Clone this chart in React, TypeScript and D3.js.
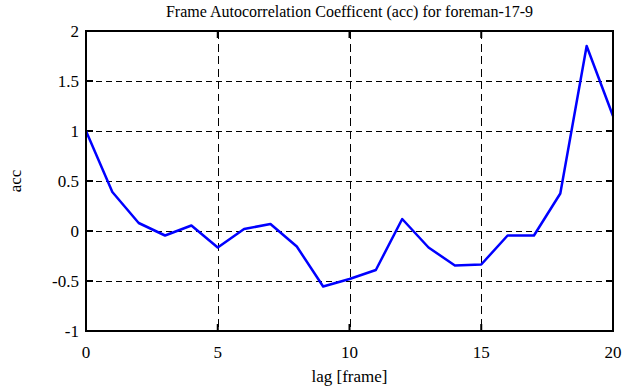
import React from "react";
import {scaleLinear, line} from "d3";

// lag vs autocorrelation
const lags = [0, 1, 2, 3, 4, 5, 6, 7, 8, 9, 10, 11, 12, 13, 14, 15, 16, 17, 18, 19, 20];
const accValues = [1.0, 0.39, 0.08, -0.045, 0.055, -0.165, 0.02, 0.07, -0.155, -0.555, -0.48, -0.39, 0.12, -0.165, -0.345, -0.335, -0.045, -0.045, 0.375, 1.85, 1.15];
const xTicks = [0, 5, 10, 15, 20];
const yTicks = [-1, -0.5, 0, 0.5, 1, 1.5, 2];

const W = 635;
const H = 387;
const margin = {left: 86, right: 22, top: 31, bottom: 56};

function App() {
    const x = scaleLinear().domain([0, 20]).range([margin.left, W - margin.right]);
    const y = scaleLinear().domain([-1, 2]).range([H - margin.bottom, margin.top]);
    const path = line<number>()
        .x((d, i) => x(lags[i]))
        .y(d => y(d))(accValues);

    const font = "'Liberation Serif', 'DejaVu Serif', serif";
    const [x0, x1] = x.range();
    const [y0, y1] = y.range();

    return (
        <svg width={W} height={H} style={{position: "absolute", left: 0, top: 0, background: "#fff"}}
             fontFamily={font}>
            <rect x={0} y={0} width={W} height={H} fill="#fff"/>
            {/* grid */}
            <g shapeRendering="crispEdges">
                {xTicks.slice(1, -1).map(t => (
                    <line key={"gx" + t} x1={Math.round(x(t)) + 0.5} x2={Math.round(x(t)) + 0.5} y1={y1} y2={y0}
                          stroke="#000" strokeWidth={1} strokeDasharray="8,4.5"/>
                ))}
                {yTicks.slice(1, -1).map(t => (
                    <line key={"gy" + t} x1={x0} x2={x1} y1={Math.round(y(t)) + 0.5} y2={Math.round(y(t)) + 0.5}
                          stroke="#000" strokeWidth={1} strokeDasharray="6,4"/>
                ))}
            </g>
            {/* inward ticks */}
            {xTicks.map(t => (
                <g key={"tx" + t}>
                    <line x1={x(t)} x2={x(t)} y1={y0} y2={y0 - 7} stroke="#000" strokeWidth={2}/>
                    <line x1={x(t)} x2={x(t)} y1={y1} y2={y1 + 7} stroke="#000" strokeWidth={2}/>
                    <text x={x(t)} y={y0 + 27} textAnchor="middle" fontSize={17}>{t}</text>
                </g>
            ))}
            {yTicks.map(t => (
                <g key={"ty" + t}>
                    <line x1={x0} x2={x0 + 7} y1={y(t)} y2={y(t)} stroke="#000" strokeWidth={2}/>
                    <line x1={x1} x2={x1 - 7} y1={y(t)} y2={y(t)} stroke="#000" strokeWidth={2}/>
                    <text x={x0 - 7} y={y(t) + 6} textAnchor="end" fontSize={17}>{t}</text>
                </g>
            ))}
            <path d={path ?? ""} fill="none" stroke="#0000ff" strokeWidth={2.5} strokeLinejoin="round"/>
            <rect x={x0} y={y1} width={x1 - x0} height={y0 - y1} fill="none" stroke="#000" strokeWidth={2}/>
            <text x={(x0 + x1) / 2} y={17} textAnchor="middle" fontSize={16}>
                Frame Autocorrelation Coefficent (acc) for foreman-17-9
            </text>
            <text x={(x0 + x1) / 2} y={382} textAnchor="middle" fontSize={17}>lag [frame]</text>
            <text transform={`translate(21, ${(y0 + y1) / 2}) rotate(-90)`} textAnchor="middle"
                  fontSize={17}>acc</text>
        </svg>
    );
}

export default App;
